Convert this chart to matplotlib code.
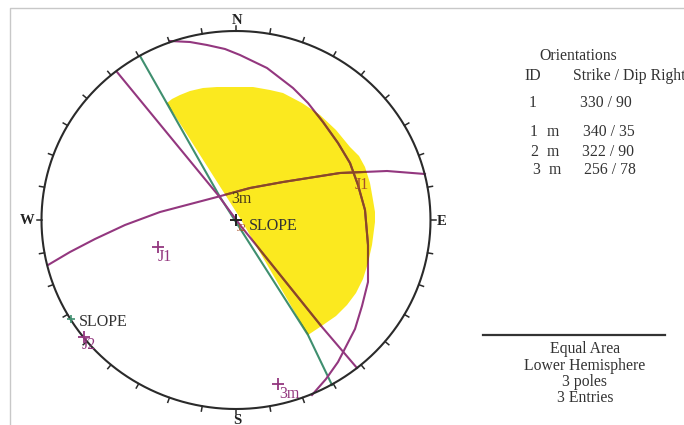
import matplotlib
matplotlib.use("Agg")
import matplotlib.pyplot as plt
from matplotlib.patches import Polygon
import numpy as np

plt.rcParams['font.family'] = ['Liberation Serif', 'DejaVu Serif']

W, H = 684, 425
CX, CY, RX, RY = 236.0, 220.0, 194.5, 189.0

PURPLE = '#93377f'
BROWN = '#8a4a22'
GREEN = '#3f8f6f'
DARK_GREEN = '#4f7f40'
YELLOW = '#fbe91f'
DARK = '#2a2a2a'
TEXT = '#333333'

# values, as image positions
yellow_x = [167, 172, 180, 190, 203, 217, 235, 253, 270, 283, 302, 320, 336, 350, 359, 365, 370, 373, 375, 375, 372, 368, 363, 356, 347, 336, 323, 308, 240]
yellow_y = [103, 99, 95, 91, 88, 87, 87, 87, 90, 93, 103, 115, 130, 147, 156, 167, 183, 200, 212, 222, 245, 263, 279, 293, 305, 316, 325, 335, 218]
plane_j1_x = [170, 190, 207, 225, 240, 267, 293, 308, 323, 338, 350, 358, 365, 368, 368, 362, 355, 338, 326, 312]
plane_j1_y = [41, 42, 45, 49, 55, 68, 88, 103, 122, 143, 163, 185, 210, 245, 282, 306, 329, 362, 379, 395]
plane_2m_x = [117, 218, 240, 322, 357]
plane_2m_y = [72, 195, 225, 327, 368]
plane_3m_x = [48, 70, 95, 125, 160, 217, 250, 283, 340, 387, 425]
plane_3m_y = [265, 252, 239, 225, 212, 197, 188, 182, 173, 171, 174]
slope_x = [140, 220, 308, 332]
slope_y = [56, 197, 335, 385]
pole_x = [158, 84, 278]
pole_y = [247, 337, 384]
slope_pole_x = [71]
slope_pole_y = [319]
centre_pole_x = [236]
centre_pole_y = [220]
cardinals = ['N', 'E', 'S', 'W']
tick_azimuths = list(range(0, 360, 10))
table_ids = ['1', '1', '2', '3']
table_flags = ['', 'm', 'm', 'm']
table_values = ['330 / 90', '340 / 35', '322 / 90', '256 / 78']
footer = ['Equal Area', 'Lower Hemisphere', '3 poles', '3 Entries']

fig = plt.figure(figsize=(W / 100, H / 100), dpi=100, facecolor='white')
ax = fig.add_axes([0, 0, 1, 1])
ax.set_xlim(0, W)
ax.set_ylim(H, 0)
ax.axis('off')

# frame
ax.plot([684, 9.5, 9.5], [7.5, 7.5, 425], color='#c8c8c8', lw=1.0, zorder=1)

yellow = Polygon(list(zip(yellow_x, yellow_y)), closed=True, fc=YELLOW, ec='none', zorder=2)
ax.add_patch(yellow)
clip = Polygon(list(zip(yellow_x, yellow_y)), closed=True, transform=ax.transData)

# primitive circle and ticks
t = np.radians(np.arange(0, 361, 1))
ax.plot(CX + RX * np.sin(t), CY - RY * np.cos(t), color=DARK, lw=1.5, zorder=5)
for a in tick_azimuths:
    r = np.radians(a)
    ax.plot([CX + RX * np.sin(r), CX + (RX + 5) * np.sin(r)],
            [CY - RY * np.cos(r), CY - (RY + 5) * np.cos(r)], color=DARK, lw=1.1, zorder=5)

# planes: a darker tone where they cross the yellow zone
ax.plot(slope_x, slope_y, color=GREEN, lw=1.5, zorder=3)
ax.plot(slope_x, slope_y, color=DARK_GREEN, lw=1.5, zorder=3.5, clip_path=clip)
for xs, ys in [(plane_j1_x, plane_j1_y), (plane_2m_x, plane_2m_y), (plane_3m_x, plane_3m_y)]:
    ax.plot(xs, ys, color=PURPLE, lw=1.5, zorder=4, solid_joinstyle='round')
    ax.plot(xs, ys, color=BROWN, lw=1.5, zorder=4.5, solid_joinstyle='round', clip_path=clip)

# poles
ax.plot(pole_x, pole_y, '+', color=PURPLE, ms=9, mew=1.3, zorder=6)
ax.plot(slope_pole_x, slope_pole_y, '+', color=GREEN, ms=6, mew=1.2, zorder=6)
ax.plot(centre_pole_x, centre_pole_y, '+', color='#222222', ms=9, mew=1.4, zorder=6)

# pole labels
lab = dict(fontsize=11.5, zorder=7, ha='left', va='center')
ax.text(158, 257, 'J1', color=PURPLE, **lab)
ax.text(82, 345, 'J2', color=PURPLE, **lab)
ax.text(279, 394, '3m', color=PURPLE, **lab)
ax.text(355, 185, 'J1', color='#a5502a', **lab)
ax.text(237, 228, 'J2', color='#a5502a', fontsize=8, zorder=7, ha='left', va='center')
ax.text(231, 199, '3m', color='#4a3a1a', **lab)
ax.text(249, 226, 'SLOPE', color=TEXT, **lab)
ax.text(79, 322, 'SLOPE', color=TEXT, **lab)

# compass letters
for name, x, y in zip(cardinals, [237, 442, 237, 27], [20, 221, 420, 220]):
    ax.text(x, y, name, color='#222222', fontsize=10.5, fontweight='bold', ha='center', va='center')

# orientation table
tab = dict(color=TEXT, fontsize=11.3, va='center')
ax.text(578, 56, 'Orientations', ha='center', **tab)
ax.text(533, 76, 'ID', ha='center', **tab)
ax.text(573, 76, 'Strike / Dip Right', ha='left', clip_on=True, **tab)
for i, f, v, x1, x2, x3, y in zip(table_ids, table_flags, table_values,
                                  [533, 534, 534, 536], [553, 553, 553, 555],
                                  [606, 609, 608, 610], [103, 132, 152, 170]):
    ax.text(x1, y, i, ha='center', **tab)
    ax.text(x2, y, f, ha='center', **tab)
    ax.text(x3, y, v, ha='center', **tab)

# footer
ax.plot([483, 665], [334.5, 334.5], color='#333333', lw=1.6)
for line, y in zip(footer, [349, 366, 382, 398]):
    ax.text(585, y, line, ha='center', **tab)

fig.savefig('out.png', dpi=100, facecolor='white')
